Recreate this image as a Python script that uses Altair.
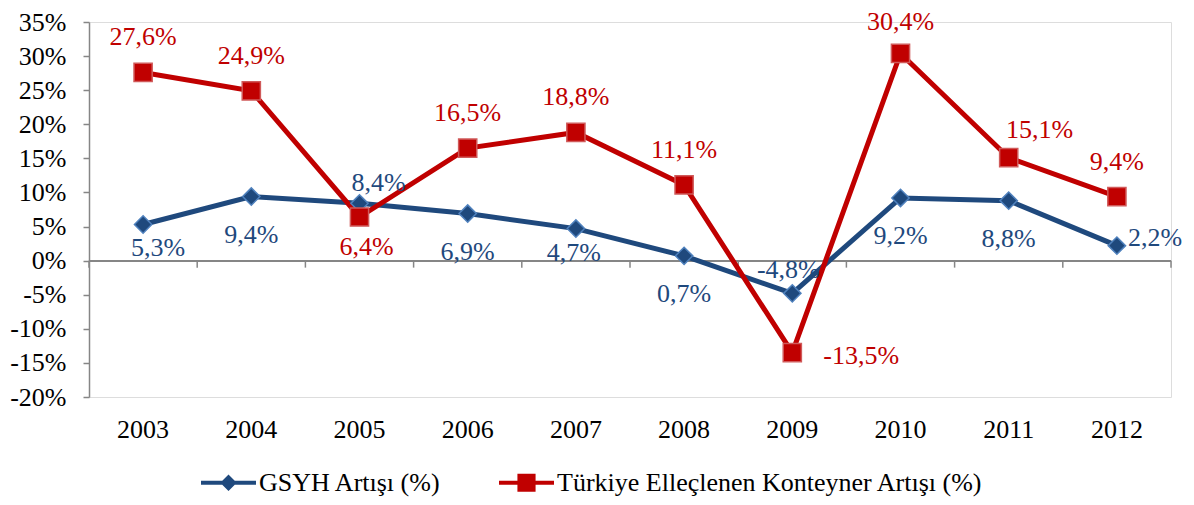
import altair as alt
import pandas as pd

# ---- data ----
years = ["2003", "2004", "2005", "2006", "2007", "2008", "2009", "2010", "2011", "2012"]
gsyh = [5.3, 9.4, 8.4, 6.9, 4.7, 0.7, -4.8, 9.2, 8.8, 2.2]
konteyner = [27.6, 24.9, 6.4, 16.5, 18.8, 11.1, -13.5, 30.4, 15.1, 9.4]
series_names = ["GSYH Artışı (%)", "Türkiye Elleçlenen Konteyner Artışı (%)"]
y_ticks = [-20, -15, -10, -5, 0, 5, 10, 15, 20, 25, 30, 35]

# ---- style ----
BLUE = "#1F497D"
BLUE_EDGE = "#4F81BD"
RED = "#C00000"
RED_EDGE = "#D05A5A"
GREY = "#868686"
FONT = "Liberation Serif"
FS = 26

# label placement keywords (style only)
gsyh_label_pos = ["down_near_r", "down", "up_right", "down", "down_near", "down", "up_near", "down", "down", "right"]
kont_label_pos = ["up", "up", "down_r", "up", "up", "up", "right_far", "up_top", "up_right_far", "up"]
PLACE = {
    "up": (0, -35, "center"),
    "up_top": (0, -31, "center"),
    "up_near": (-4, -23, "center"),
    "down": (0, 38, "center"),
    "down_near": (-2, 24, "center"),
    "down_near_r": (15, 23, "center"),
    "up_right": (19, -20, "center"),
    "right": (11, -8, "left"),
    "down_r": (7, 30, "center"),
    "right_far": (31, 3, "left"),
    "up_right_far": (31, -28, "center"),
}

rows = []
for y, v, p in zip(years, gsyh, gsyh_label_pos):
    rows.append({"year": y, "series": series_names[0], "value": v, "pos": p})
for y, v, p in zip(years, konteyner, kont_label_pos):
    rows.append({"year": y, "series": series_names[1], "value": v, "pos": p})
df = pd.DataFrame(rows)

x_scale = alt.Scale(type="band", domain=years, paddingInner=0, paddingOuter=0)
x_axis = alt.Axis(title=None, domain=False, ticks=False, tickSize=0, labelPadding=19,
                  labelFont=FONT, labelFontSize=FS, labelColor="black", labelAngle=0,
                  labelOverlap=False)
y_scale = alt.Scale(domain=[-20, 35], nice=False, zero=False)
y_axis = alt.Axis(title=None, values=y_ticks, labelExpr="datum.value + '%'", grid=False,
                  domainColor=GREY, domainWidth=1.5, tickColor=GREY, tickWidth=1.5, tickSize=6,
                  labelPadding=17, labelFont=FONT, labelFontSize=FS, labelColor="black",
                  labelOverlap=False)

X = alt.X("year:N", scale=x_scale, axis=x_axis, sort=years)
Y = alt.Y("value:Q", scale=y_scale, axis=y_axis)
Y0 = alt.Y(datum=0, type="quantitative", scale=y_scale, axis=y_axis)

base = alt.Chart(df)

zero_rule = base.mark_rule(color=GREY, strokeWidth=1.5).encode(y=Y0)

ticks = base.transform_filter(alt.datum.series == series_names[0]).mark_tick(
    orient="vertical", size=7, thickness=1.5, color=GREY, yOffset=3.5, opacity=1
).encode(x=alt.X("year:N", scale=x_scale, axis=x_axis, sort=years, bandPosition=0), y=Y0)

end_tick = base.transform_filter(
    (alt.datum.series == series_names[0]) & (alt.datum.year == years[-1])
).mark_tick(orient="vertical", size=7, thickness=1.5, color=GREY, yOffset=3.5, opacity=1).encode(
    x=alt.X("year:N", scale=x_scale, axis=x_axis, sort=years, bandPosition=1), y=Y0)

layers = [zero_rule, ticks, end_tick]

series_style = [
    (series_names[0], BLUE, BLUE_EDGE, "diamond", 300, gsyh_label_pos),
    (series_names[1], RED, RED_EDGE, "square", 330, kont_label_pos),
]

for name, col, edge, shape, size, _ in series_style:
    s = base.transform_filter(alt.datum.series == name)
    layers.append(s.mark_line(color=col, strokeWidth=5).encode(x=X, y=Y))
for name, col, edge, shape, size, _ in series_style:
    s = base.transform_filter(alt.datum.series == name)
    layers.append(s.mark_point(shape=shape, size=size, filled=True, fill=col, stroke=edge,
                               strokeWidth=1.5, opacity=1).encode(x=X, y=Y))
for name, col, edge, shape, size, poslist in series_style:
    for key in dict.fromkeys(poslist):
        dx, dy, align = PLACE[key]
        t = base.transform_filter(
            (alt.datum.series == name) & (alt.datum.pos == key)
        ).transform_calculate(
            label="(datum.value < 0 ? '-' : '') + replace(format(abs(datum.value), '.1f'), '.', ',') + '%'"
        ).mark_text(color=col, font=FONT, fontSize=FS, dx=dx, dy=dy, align=align,
                    baseline="middle").encode(x=X, y=Y, text="label:N")
        layers.append(t)

# legend symbols: line with marker in the middle
path_g = "M-1,-0.075L1,-0.075L1,0.075L-1,0.075Z M0,-0.3L0.3,0L0,0.3L-0.3,0Z"
path_k = "M-1,-0.075L1,-0.075L1,0.075L-1,0.075Z M-0.33,-0.33L0.33,-0.33L0.33,0.33L-0.33,0.33Z"

leg = dict(title=None, orient="none", legendX=112, legendY=433, direction="horizontal",
           symbolSize=3025, symbolStrokeWidth=0, symbolOpacity=1, labelFont=FONT, labelFontSize=FS,
           labelColor="black", labelLimit=1000, columnPadding=58, labelOffset=3)

legend_layer = base.transform_filter("false").mark_point(filled=True, opacity=1).encode(
    x=X, y=Y,
    color=alt.Color("series:N", scale=alt.Scale(domain=series_names, range=[BLUE, RED]),
                    legend=alt.Legend(**leg)),
    shape=alt.Shape("series:N", scale=alt.Scale(domain=series_names, range=[path_g, path_k]),
                    legend=alt.Legend(**leg)),
)
layers.append(legend_layer)

chart = alt.layer(*layers).properties(
    width=1082, height=375,
    padding={"left": 81, "top": 14, "right": 15, "bottom": 100},
    autosize=alt.AutoSizeParams(type="none"),
).configure_view(stroke=None).configure(font=FONT)

chart.save("out.html", embed_options={"renderer": "svg", "actions": False})
